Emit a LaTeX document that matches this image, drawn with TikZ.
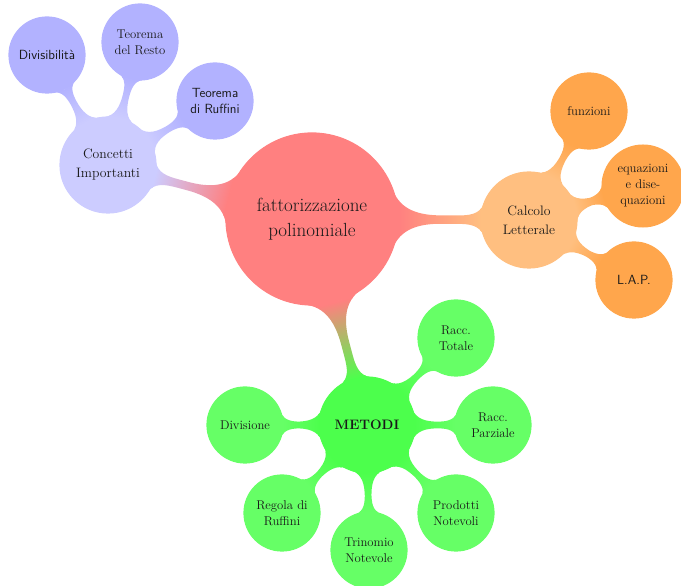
\documentclass[tikz,border=0pt]{standalone}
\usetikzlibrary{mindmap}
\begin{document}
\begin{tikzpicture}[x=1pt,y=1pt, mindmap,
  txt/.style={text=black!90, align=center, inner sep=0pt},
  rootc/.style={concept, concept color=red!50, minimum size=172pt, text width=150pt, font=\fontsize{19}{24.5}\selectfont, txt},
  lvlone/.style={concept, minimum size=96pt, text width=85pt, font=\fontsize{13.7}{19}\selectfont, txt},
  lvltwo/.style={concept, minimum size=76pt, text width=70pt, font=\fontsize{12.7}{16}\selectfont, txt},
  sanstwo/.style={lvltwo, font=\sffamily\fontsize{13.3}{16}\selectfont},
  bigbar/.style={line width=13pt}, smallbar/.style={line width=9pt}]
\useasboundingbox (0,0) rectangle (681,586);
% root
\node[rootc] (root) at (312,367) {fattorizzazione\\polinomiale};
% concetti
\node[lvlone, concept color=blue!20] (ci) at (108,421) {Concetti\\Importanti};
\node[sanstwo, concept color=blue!30] (div) at (47,531) {Divisibilità};
\node[lvltwo, concept color=blue!30] (tdr) at (140,544) {Teorema\\del Resto};
\node[sanstwo, concept color=blue!30] (tru) at (215,485) {Teorema\\di Ruffini};
% calcolo
\node[lvlone, concept color=orange!50] (cl) at (529,366) {Calcolo\\Letterale};
\node[lvltwo, concept color=orange!70] (fun) at (589,475) {funzioni};
\node[lvltwo, concept color=orange!70] (equ) at (643,400) {equazioni\\e dise-\\quazioni};
\node[sanstwo, concept color=orange!70] (lap) at (634,306) {L.A.P.};
% metodi
\node[lvlone, concept color=green!70, font=\bfseries\fontsize{13.7}{19}\selectfont] (met) at (367,161) {METODI};
\node[lvltwo, concept color=green!60] (rt) at (456,248) {Racc.\\Totale};
\node[lvltwo, concept color=green!60] (rp) at (493,161) {Racc.\\Parziale};
\node[lvltwo, concept color=green!60] (pn) at (456,73) {Prodotti\\Notevoli};
\node[lvltwo, concept color=green!60] (tn) at (369,36) {Trinomio\\Notevole};
\node[lvltwo, concept color=green!60] (rr) at (282,73) {Regola di\\Ruffini};
\node[lvltwo, concept color=green!60] (dv) at (245,161) {Divisione};
% bars
\path (root) to[circle connection bar switch color=from (red!50) to (blue!20), bigbar] (ci);
\path (root) to[circle connection bar switch color=from (red!50) to (orange!50), bigbar] (cl);
\path (root) to[circle connection bar switch color=from (red!50) to (green!70), bigbar] (met);
\path (ci) to[circle connection bar switch color=from (blue!20) to (blue!30), smallbar] (div);
\path (ci) to[circle connection bar switch color=from (blue!20) to (blue!30), smallbar] (tdr);
\path (ci) to[circle connection bar switch color=from (blue!20) to (blue!30), smallbar] (tru);
\path (cl) to[circle connection bar switch color=from (orange!50) to (orange!70), smallbar] (fun);
\path (cl) to[circle connection bar switch color=from (orange!50) to (orange!70), smallbar] (equ);
\path (cl) to[circle connection bar switch color=from (orange!50) to (orange!70), smallbar] (lap);
\foreach \c in {rt,rp,pn,tn,rr,dv}
  \path (met) to[circle connection bar switch color=from (green!70) to (green!60), smallbar] (\c);
\end{tikzpicture}
\end{document}
